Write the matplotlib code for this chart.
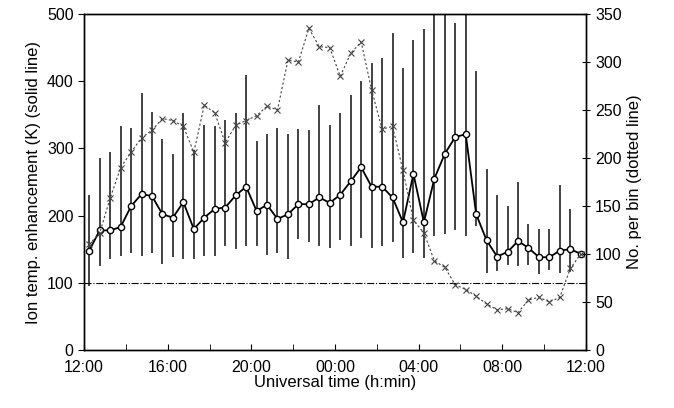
import matplotlib
matplotlib.use("Agg")
import matplotlib.pyplot as plt
import numpy as np

plt.rcParams['font.family'] = ['Liberation Sans', 'DejaVu Sans']

# hours since 12:00 (bin centres)
hours = [0.25 + 0.5 * i for i in range(48)]
temp = [148, 178, 178, 183, 214, 232, 229, 202, 197, 220, 180, 197, 210, 212, 230, 243,
        207, 216, 195, 202, 217, 217, 227, 219, 231, 251, 272, 243, 243, 227, 190, 262,
        190, 255, 292, 317, 321, 202, 163, 139, 146, 162, 152, 138, 138, 148, 150, 143]
err_top = [230, 285, 294, 333, 330, 382, 354, 314, 292, 352, 297, 335, 334, 342, 352, 409,
           311, 322, 330, 321, 329, 327, 364, 335, 352, 380, 401, 427, 435, 471, 419, 461,
           477, 520, 520, 487, 520, 415, 270, 230, 215, 250, 187, 180, 180, 245, 210, 143]
err_bot = [95, 125, 135, 140, 145, 140, 144, 128, 139, 135, 135, 140, 140, 155, 150, 155,
           155, 142, 145, 136, 165, 160, 155, 152, 164, 155, 167, 152, 155, 160, 137, 145,
           137, 170, 172, 178, 170, 185, 115, 118, 126, 125, 126, 113, 119, 115, 116, 143]
count = [110, 122, 158, 190, 206, 221, 229, 241, 239, 233, 206, 255, 247, 216, 234, 239,
         244, 254, 250, 302, 300, 335, 316, 315, 285, 309, 321, 271, 230, 233, 187, 135,
         122, 93, 86, 68, 63, 56, 48, 42, 43, 39, 52, 55, 50, 55, 85, 100]
xtick_labels = ["12:00", "16:00", "20:00", "00:00", "04:00", "08:00", "12:00"]

fig = plt.figure(figsize=(6.74, 4.08), dpi=100)
ax = fig.add_axes([84/674, 58/408, 502/674, 336/408])
ax.vlines(hours, err_bot, np.minimum(err_top, 500), color='#222222', lw=1.2)
ax.plot(hours, temp, '-o', color='black', lw=1.3, ms=4.5, mfc='white', mec='black', mew=1)
ax.axhline(100, color='black', lw=0.8, ls='-.')
ax.set_xlim(0, 24)
ax.set_ylim(0, 500)
ax.set_xticks(np.arange(0, 25, 4))
ax.set_xticks(np.arange(0, 25, 2), minor=True)
ax.set_xticklabels(xtick_labels)
ax.set_yticks(range(0, 501, 100))
ax.tick_params(axis='both', which='both', direction='in', labelsize=11.5, length=4)
ax.tick_params(axis='x', pad=7)
ax.tick_params(axis='y', direction='out', length=4)
ax.set_xlabel("Universal time (h:min)", fontsize=12, labelpad=0)
ax.set_ylabel("Ion temp. enhancement (K) (solid line)", fontsize=12)

ax2 = ax.twinx()
ax2.plot(hours, count, ls=(0, (2, 2)), marker='x', color='#444444', lw=0.8, ms=4, mew=0.8)
ax2.set_ylim(0, 350)
ax2.set_yticks(range(0, 351, 50))
ax2.tick_params(axis='y', direction='inout', length=6, labelsize=11.5)
ax2.set_ylabel("No. per bin (dotted line)", fontsize=12)
for a in (ax, ax2):
    for s in a.spines.values():
        s.set_linewidth(1.0)

fig.savefig("out.png", dpi=100)
